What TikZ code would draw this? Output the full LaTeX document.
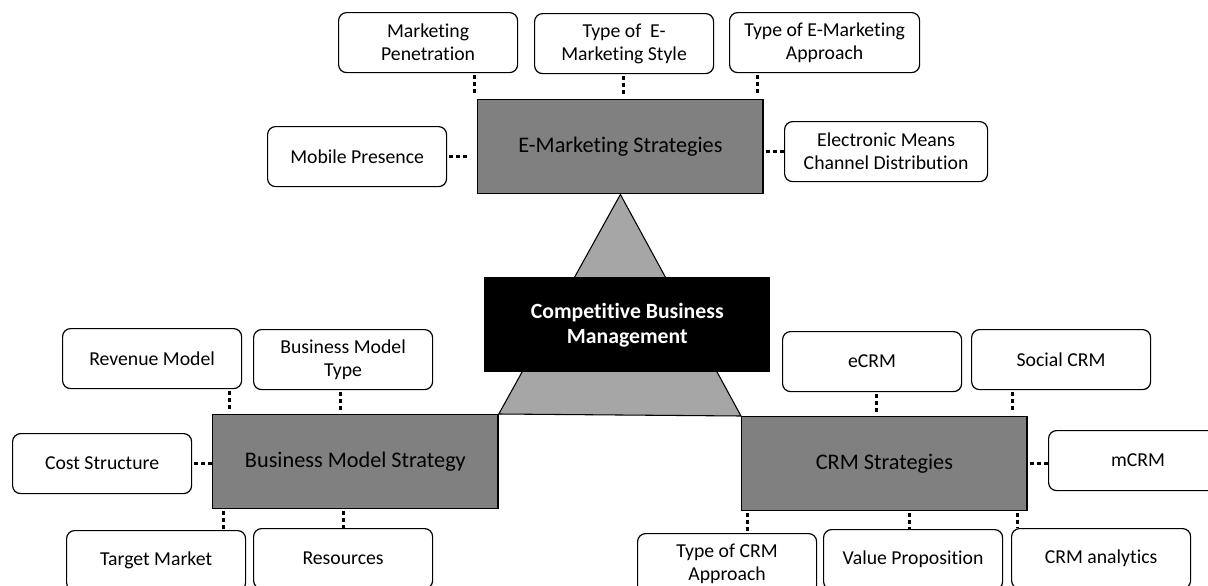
\documentclass[tikz,border=0pt]{standalone}
\usepackage{fontspec}
\setmainfont{Carlito}[Ligatures=NoCommon, Contextuals=NoAlternate]
\usetikzlibrary{calc,backgrounds}
\definecolor{boxgray}{HTML}{808080}
\definecolor{trigray}{HTML}{A6A6A6}
\begin{document}
\begin{tikzpicture}[x=0.75pt,y=-0.75pt,
  leaf/.style={draw=black, line width=0.9pt, rounded corners=6pt, fill=white,
    anchor=north west, align=center, inner sep=0pt,
    minimum width=134.25pt, minimum height=45pt,
    font=\fontsize{14.8}{17.4}\selectfont},
  mainbox/.style={draw=black, line width=1.1pt, fill=boxgray,
    anchor=north west, align=center, inner sep=0pt,
    minimum width=214pt, minimum height=70.5pt,
    font=\fontsize{16.7}{20}\selectfont},
  corebox/.style={fill=black, text=white, anchor=north west, align=center,
    inner sep=0pt, minimum width=214.5pt, minimum height=71.25pt,
    font=\fontsize{16.3}{18.8}\selectfont\bfseries},
  conn/.style={line width=2.25pt,
    dash pattern=on 0pt off 1.5pt on 3pt off 2.25pt on 3pt off 2.25pt on 3pt off 80pt}]
\useasboundingbox (0,0) rectangle (1208,586);
\clip (0,0) rectangle (1208,586);

% three strategy pillars
\node[mainbox] (emk) at (477,99)  {E-Marketing Strategies};
\node[mainbox] (bms) at (212,414) {Business Model Strategy};
\node[mainbox] (crm) at (741,416) {CRM Strategies};

% white page and the central triangle behind the pillars
\begin{scope}[on background layer]
  \fill[white] (0,0) rectangle (1208,586);
  \filldraw[fill=trigray, draw=black, line width=0.8pt]
    (bms.north east) -- (emk.south) -- (crm.north west) -- cycle;
\end{scope}
\node[corebox] (cbm) at (484,277) {Competitive Business\\Management};

% E-marketing factors
\node[leaf] (mp)    at (338,12)  {Marketing\\Penetration};
\node[leaf] (style) at (534,13)  {Type of~~E-\\Marketing Style};
\node[leaf, minimum width=142.5pt] (appr) at (729,12) {Type of E-Marketing\\Approach};
\node[leaf] (mob)   at (267,126) {Mobile Presence};
\node[leaf, minimum width=152.25pt] (elec) at (784,121) {Electronic Means\\Channel Distribution};

% business model factors
\node[leaf] (rev)  at (62,328)  {Revenue Model};
\node[leaf] (bmt)  at (253,329) {Business Model\\Type};
\node[leaf] (cost) at (12,433)  {Cost Structure};
\node[leaf] (tgt)  at (66,530)  {Target Market};
\node[leaf] (res)  at (253,528) {Resources};

% CRM factors
\node[leaf] (ecrm) at (782,331)  {eCRM};
\node[leaf] (soc)  at (971,329)  {Social CRM};
\node[leaf] (mcrm) at (1048,430) {mCRM};
\node[leaf] (tca)  at (637,533)  {Type of CRM\\Approach};
\node[leaf] (vp)   at (823,529)  {Value Proposition};
\node[leaf] (ana)  at (1011,528) {CRM analytics};

% dotted links: E-marketing
\draw[conn] ($(mp.south west)+(136,0)$)   -- ($(emk.north west)+(-3,0)$);
\draw[conn] ($(style.south west)+(89,0)$) -- ($(emk.north west)+(146,0)$);
\draw[conn] ($(appr.south west)+(28,0)$)  -- ($(emk.north west)+(280,0)$);
\draw[conn] (mob.east) -- (mob.east -| emk.west);
\draw[conn] (emk.east |- elec.west) -- (elec.west);

% dotted links: business model
\draw[conn] ($(rev.south west)+(167,0)$) -- ($(bms.north west)+(17,0)$);
\draw[conn] ($(bmt.south west)+(87,0)$)  -- ($(bms.north west)+(128,0)$);
\draw[conn] (cost.east) -- (cost.east -| bms.west);
\draw[conn] ($(bms.south west)+(11,0)$)  -- ($(tgt.north west)+(157,0)$);
\draw[conn] ($(bms.south west)+(131,0)$) -- ($(res.north west)+(90,0)$);

% dotted links: CRM
\draw[conn] ($(ecrm.south west)+(94,0)$) -- ($(crm.north west)+(135,0)$);
\draw[conn] ($(soc.south west)+(41,0)$)  -- ($(crm.north west)+(271,0)$);
\draw[conn] (crm.east) -- (crm.east -| mcrm.west);
\draw[conn] ($(crm.south west)+(6,0)$)   -- ($(tca.north west)+(110,0)$);
\draw[conn] ($(crm.south west)+(168,0)$) -- ($(vp.north west)+(86,0)$);
\draw[conn] ($(crm.south west)+(276,0)$) -- ($(ana.north west)+(6,0)$);
\end{tikzpicture}
\end{document}
